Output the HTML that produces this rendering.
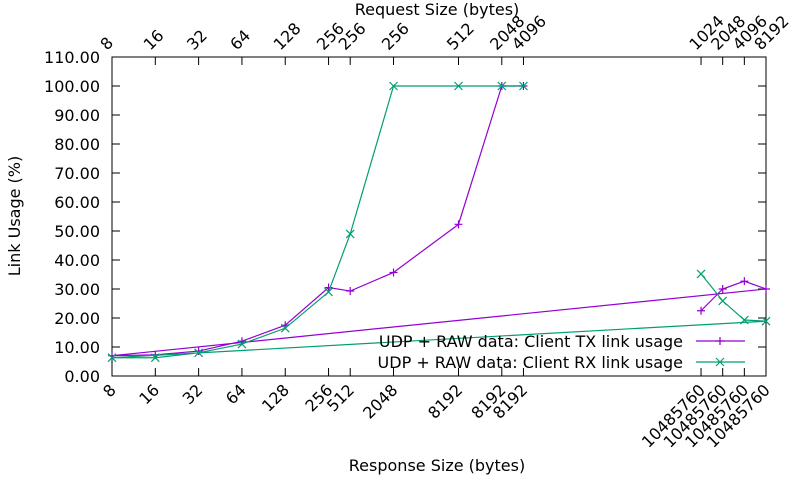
<!DOCTYPE html>
<html><head><meta charset="utf-8"><style>
body{margin:0;background:#fff}
svg{display:block;font-family:"DejaVu Sans","Liberation Sans",sans-serif;font-size:16px}
</style></head><body>
<svg id="c" width="800" height="480" xmlns="http://www.w3.org/2000/svg"></svg>
<script>
const xPos = [13.6,14.1,14.6,15.1,0,1,2,3,4,5,5.5,6.5,8,9,9.5];
const bottomLabels = ["10485760","10485760","10485760","10485760","8","16","32","64","128","256","512","2048","8192","8192","8192"];
const topLabels = ["1024","2048","4096","8192","8","16","32","64","128","256","256","256","512","2048","4096"];
const txValues = [22.5,30,32.7,30,7,7.3,8.6,12,17.5,30.5,29.3,35.7,52.3,100,100];
const rxValues = [35.2,25.9,19.3,18.9,6.3,6.3,8,11,16.5,29,49,100,100,100,100];
const yTicks = [0,10,20,30,40,50,60,70,80,90,100,110];
const L=112,R=766,T=57,B=376;
const xs=v=>L+v*(R-L)/15.1;
const ys=v=>B-v*(B-T)/110;
const svg=document.getElementById('c');
const NS='http://www.w3.org/2000/svg';
function el(t,a,p){const e=document.createElementNS(NS,t);for(const k in a)e.setAttribute(k,a[k]);(p||svg).appendChild(e);return e;}
let f=el('rect',{x:L,y:T,width:R-L,height:B-T,fill:'none',stroke:'#000','stroke-width':1});


yTicks.forEach(v=>{
  const y=ys(v);
  el('line',{x1:L,y1:y,x2:L+8,y2:y,stroke:'#000'});
  el('line',{x1:R,y1:y,x2:R-8,y2:y,stroke:'#000'});
  const t=el('text',{x:L-12,y:y+6,'text-anchor':'end',fill:'#000'});
  t.textContent=v.toFixed(2);
  
  
});
xPos.forEach((v,i)=>{
  const x=xs(v);
  el('line',{x1:x,y1:B,x2:x,y2:B-8,stroke:'#000'});
  el('line',{x1:x,y1:T,x2:x,y2:T+8,stroke:'#000'});
  const t=el('text',{x:0,y:0,'text-anchor':'end',transform:`translate(${x+5},${B+15}) rotate(-45)`,fill:'#000'});
  t.textContent=bottomLabels[i];
  
  
  const t2=el('text',{x:0,y:0,'text-anchor':'start',transform:`translate(${x-5},${T-6}) rotate(-45)`,fill:'#000'});
  t2.textContent=topLabels[i];
  
  
});
function series(vals,color,mark,name){
  const pts=vals.map((v,i)=>[xs(xPos[i]),ys(v)]);
  const p=el('polyline',{points:pts.map(p=>p.join(',')).join(' '),fill:'none',stroke:color,'stroke-width':1.2});
  
  
  pts.forEach(([x,y])=>{
    const g=el('path',{d:mark(x,y),stroke:color,'stroke-width':1.2,fill:'none'});
    
    
  });
}
const plus=(x,y)=>`M${x-4},${y}H${x+4}M${x},${y-4}V${y+4}`;
const cross=(x,y)=>`M${x-4},${y-4}L${x+4},${y+4}M${x-4},${y+4}L${x+4},${y-4}`;
series(txValues,'#9400d3',plus,'tx-series');
series(rxValues,'#009e73',cross,'rx-series');
[['UDP + RAW data: Client TX link usage','#9400d3',plus,341],['UDP + RAW data: Client RX link usage','#009e73',cross,362]].forEach(([txt,c,m,y],i)=>{
  const t=el('text',{x:683,y:y+6,'text-anchor':'end',fill:'#000'});
  t.textContent=txt;
  
  
  el('line',{x1:696,y1:y,x2:745,y2:y,stroke:c,'stroke-width':1.2});
  el('path',{d:m(720,y),stroke:c,'stroke-width':1.2,fill:'none'});
});
let a=el('text',{x:0,y:0,'text-anchor':'middle',transform:'translate(20,216) rotate(-90)',fill:'#000'});
a.textContent='Link Usage (%)';


a=el('text',{x:437,y:471,'text-anchor':'middle',fill:'#000'});
a.textContent='Response Size (bytes)';


a=el('text',{x:437,y:15,'text-anchor':'middle',fill:'#000'});
a.textContent='Request Size (bytes)';


</script>
</body></html>
